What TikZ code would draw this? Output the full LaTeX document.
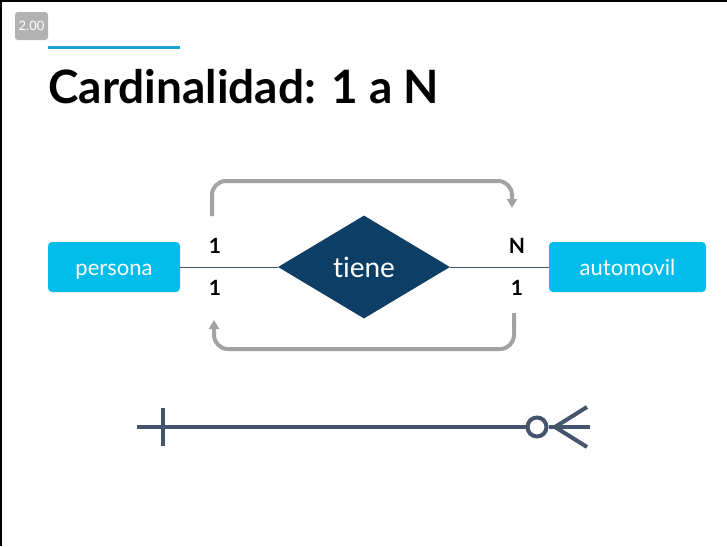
\documentclass[tikz,border=0pt]{standalone}
\usepackage{fontspec}
\setmainfont{Lato}[Ligatures=NoCommon]
\usepackage{tikz}
\usetikzlibrary{arrows.meta,shapes.geometric}

\definecolor{cyanbox}{HTML}{00BDE9}
\definecolor{navy}{HTML}{0D3F66}
\definecolor{slate}{HTML}{44546A}
\definecolor{loopgray}{HTML}{A3A3A3}
\definecolor{titleblue}{HTML}{1EA0D8}

\tikzset{
    entity/.style={draw=none, fill=cyanbox, rounded corners=4pt, text=white, font={\fontsize{22}{24}\selectfont}, minimum height=50pt, inner sep=0pt, text height=19pt, text depth=2pt},
    relation/.style={diamond, fill=navy, text=white, font={\fontsize{28}{30}\selectfont}, minimum width=172pt, minimum height=103pt, inner sep=0pt, aspect=1.67},
    card/.style={font={\fontsize{21}{23}\selectfont\bfseries}, black, inner sep=0pt},
    loopline/.style={draw=loopgray, line width=4pt, rounded corners=14pt, -{Triangle[length=9pt,width=10pt]}},
    crow/.style={draw=slate, line width=4pt}
}

\begin{document}
\begin{tikzpicture}[x=1pt, y=-1pt]
    \useasboundingbox (0,0) rectangle (727,546);
    \fill[white] (0,0) rectangle (727,546);
    \fill[black] (0,0) rectangle (727,2);
    \fill[black] (0,0) rectangle (2,546);

    % badge and title
    \node[fill=gray!60, rounded corners=3pt, text=white, minimum width=33pt, minimum height=28pt, inner sep=0pt, font={\fontsize{13}{14}\selectfont}] (badge) at (31.5,26) {2.00};
    \draw[titleblue, line width=3pt] (48,47) -- (180,47);
    \node[anchor=base west, inner sep=0pt, font={\fontsize{46}{50}\selectfont\bfseries}] (title) at (48,103) {Cardinalidad: 1 a N};

    % entities and relation
    \node[entity, minimum width=132pt] (persona) at (114,267) {persona};
    \node[entity, minimum width=157pt] (automovil) at (627.5,267) {automovil};
    \node[relation] (tiene) at (364,267) {tiene};
    \draw[slate, line width=0.8pt] (persona) -- (tiene);
    \draw[slate, line width=0.8pt] (tiene) -- (automovil);

    \node[card] (c1) at (215,245.5) {1};
    \node[card] (c2) at (215,288) {1};
    \node[card] (c3) at (517,245.5) {N};
    \node[card] (c4) at (517,288) {1};

    % reading arrows
    \coordinate (topA) at (212,216);
    \coordinate (topB) at (512,208);
    \coordinate (botA) at (514,313);
    \coordinate (botB) at (214,320);
    \draw[loopline] (topA) |- (362,181) -| (topB);
    \draw[loopline] (botA) |- (364,349) -| (botB);

    % crow's foot notation
    \coordinate (lineL) at (137,427);
    \coordinate (lineR) at (590,427);
    \node[circle, draw=slate, line width=4pt, fill=white, minimum size=19pt, inner sep=0pt] (zero) at (537,427) {};
    \draw[crow] (lineL) -- (zero);
    \draw[crow] (zero) -- (lineR);
    \draw[crow] (163,408) -- (163,446);
    \draw[crow] (587,407) -- (555,427) -- (587,447);
\end{tikzpicture}
\end{document}
